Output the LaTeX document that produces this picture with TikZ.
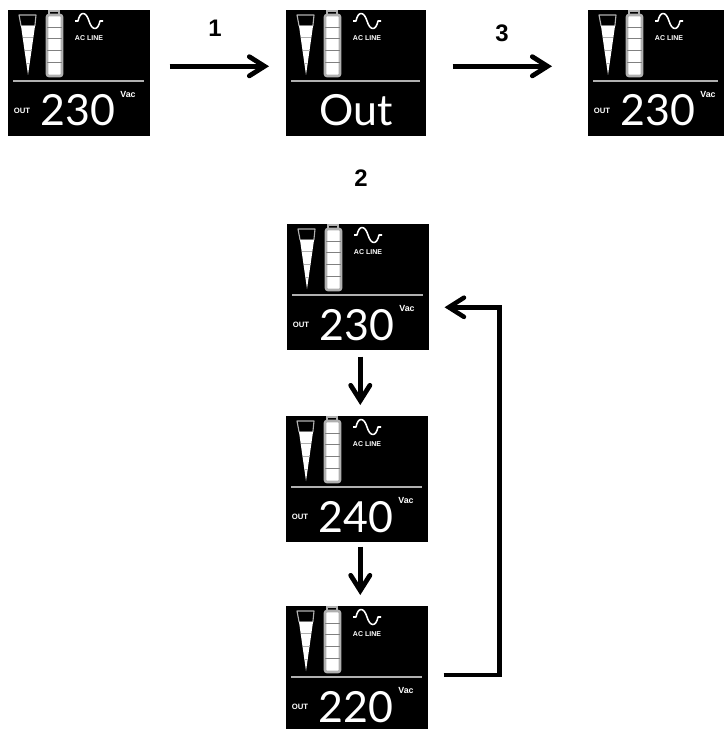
\documentclass[tikz,border=0pt]{standalone}
\usepackage{fontspec}
\setmainfont{Liberation Sans}
\newfontfamily\lcdfont{Lato}
\usetikzlibrary{calc,arrows.meta}
\definecolor{lcdgray}{HTML}{B0B0B0}
\tikzset{
	panel/.style={fill=black,draw=none,inner sep=0pt,anchor=north west},
	readout/.style={text=white,inner sep=0pt,anchor=base,font=\lcdfont\fontsize{30.5}{30.5}\selectfont},
	smalltag/.style={text=white,inner sep=0pt,font=\bfseries\fontsize{5}{6}\selectfont},
	bigtag/.style={smalltag,font=\bfseries\fontsize{6.3}{7}\selectfont},
	steplabel/.style={inner sep=0pt,font=\bfseries\fontsize{17}{20}\selectfont},
	flowarrow/.style={line width=3.4pt,-{Straight Barb[length=3.8mm,width=4.8mm,line cap=round,line join=miter]}},
}
\newcommand{\lcdpanel}[6]{
	\node[panel,minimum width=#4*0.025cm,minimum height=#5*0.025cm] (#1) at (#2,#3) {};
	\begin{scope}[shift={(#2,#3)}]
		% load wedge
		\draw[lcdgray,line width=.8pt,line join=round] (11,5) -- (28,5) -- (26.9,16) -- (13.1,16) -- cycle;
		\fill[white] (13,16) -- (27,16) -- (20,65) -- cycle;
		\draw[lcdgray,line width=.6pt] (14.6,27) -- (25.4,27);
		\draw[lcdgray,line width=.6pt] (16.5,40) -- (23.5,40);
		\draw[lcdgray,line width=.6pt] (18.3,53) -- (21.7,53);
		% battery
		\draw[lcdgray,line width=.8pt] (41,4) -- (41,1) -- (51,1) -- (51,4);
		\draw[lcdgray,fill=white,line width=1.9pt,rounded corners=1.5pt] (39,5) rectangle (54,66);
		\foreach \y in {17,28,40,52} {
			\draw[gray,line width=.7pt] (39,\y) -- (54,\y);
		}
		% sine
		\draw[white,line width=1.1pt,line join=round] (67,11) -- (70,11) .. controls (72,1) and (78,1) .. (81,11) .. controls (84,21) and (90,21) .. (92,11) -- (95,11);
		\node[smalltag] (#1ac) at (81,28) {AC LINE};
		\draw[lcdgray,line width=1pt] (5,71) -- (#4-6,71);
		\node[readout] (#1val) at (70,116) {#6};
	\end{scope}
}
\newcommand{\lcdtags}[3]{
	\begin{scope}[shift={(#2,#3)}]
		\node[smalltag,font=\bfseries\fontsize{5.5}{6}\selectfont] (#1out) at (14,101) {OUT};
		\node[bigtag] (#1vac) at (120,84) {Vac};
	\end{scope}
}

\begin{document}
\begin{tikzpicture}[x=0.025cm,y=-0.025cm]
	\useasboundingbox (0,0) rectangle (724,729);
	\lcdpanel{pa}{8}{10}{142}{126}{230}
	\lcdtags{pa}{8}{10}
	\lcdpanel{pb}{286}{10}{140}{126}{Out}
	\lcdpanel{pc}{588}{10}{136}{126}{230}
	\lcdtags{pc}{588}{10}
	\lcdpanel{pd}{287}{224}{142}{126}{230}
	\lcdtags{pd}{287}{224}
	\lcdpanel{pe}{286}{416}{142}{126}{240}
	\lcdtags{pe}{286}{416}
	\lcdpanel{pf}{286}{606}{142}{123}{220}
	\lcdtags{pf}{286}{606}
	\node[steplabel] (one) at (215,28) {1};
	\node[steplabel] (three) at (502,33) {3};
	\node[steplabel] (two) at (361,178) {2};
	\draw[flowarrow] ($(pa.east)+(19,-7)$) -- ($(pb.west)+(-17,-7)$);
	\draw[flowarrow] ($(pb.east)+(26,-7)$) -- ($(pc.west)+(-36,-7)$);
	\draw[flowarrow] ($(pd.south)+(2,6)$) -- ($(pe.north)+(3,-11)$);
	\draw[flowarrow] ($(pe.south)+(3,4)$) -- ($(pf.north)+(3,-11)$);
	\draw[flowarrow,line width=3.2pt] ($(pf.east)+(15,7)$) -- ++(56,0) |- ($(pd.east)+(15,20)$);
\end{tikzpicture}
\end{document}
